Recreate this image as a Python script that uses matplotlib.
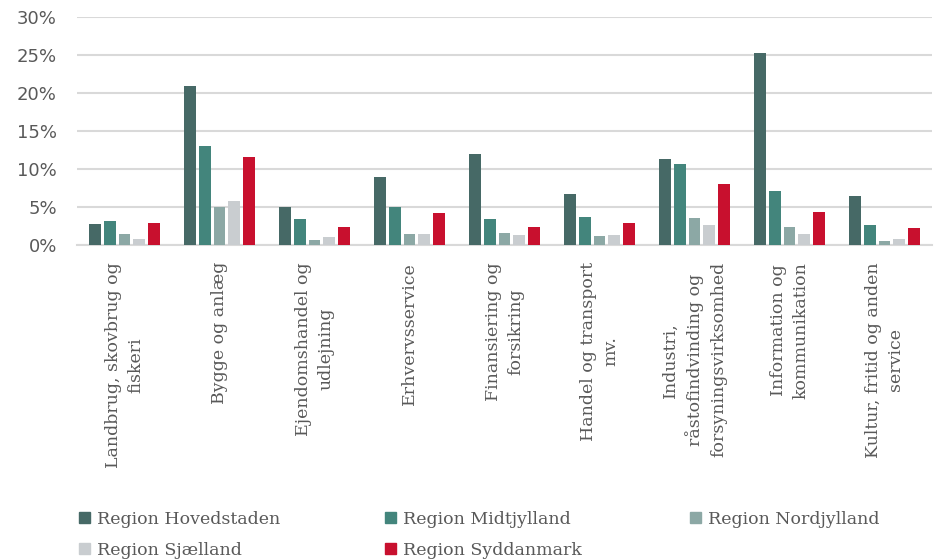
import matplotlib
matplotlib.use("Agg")
import matplotlib.pyplot as plt
from matplotlib.patches import Rectangle
import numpy as np

categories = [
    "Landbrug, skovbrug og\nfiskeri",
    "Bygge og anlæg",
    "Ejendomshandel og\nudlejning",
    "Erhvervsservice",
    "Finansiering og\nforsikring",
    "Handel og transport\nmv.",
    "Industri,\nråstofindvinding og\nforsyningsvirksomhed",
    "Information og\nkommunikation",
    "Kultur, fritid og anden\nservice",
]
series_names = ["Region Hovedstaden", "Region Midtjylland", "Region Nordjylland",
                "Region Sjælland", "Region Syddanmark"]
hovedstaden = [2.8, 20.9, 5.0, 8.9, 12.0, 6.7, 11.3, 25.2, 6.4]
midtjylland = [3.1, 13.0, 3.4, 5.0, 3.4, 3.7, 10.7, 7.1, 2.6]
nordjylland = [1.5, 5.0, 0.7, 1.4, 1.6, 1.2, 3.5, 2.4, 0.5]
sjaelland = [0.8, 5.8, 1.1, 1.5, 1.3, 1.3, 2.6, 1.5, 0.8]
syddanmark = [2.9, 11.6, 2.4, 4.2, 2.4, 2.9, 8.0, 4.4, 2.2]
yticks = [0, 5, 10, 15, 20, 25, 30]
colors = ["#466966", "#43857c", "#8ca8a5", "#c9cdd0", "#c8102e"]

series = [hovedstaden, midtjylland, nordjylland, sjaelland, syddanmark]

W, H = 934, 559
fig = plt.figure(figsize=(W / 100, H / 100), dpi=100)
ax = fig.add_axes([77 / W, (H - 245) / H, (932 - 77) / W, (245 - 17) / H])

x = np.arange(len(categories))
step = 0.155
bw = 0.125
for i, (vals, c) in enumerate(zip(series, colors)):
    ax.bar(x + (i - 2) * step, vals, width=bw, color=c, zorder=3)

ax.set_xlim(-0.5, len(categories) - 0.5)
ax.set_ylim(0, 30)
ax.set_yticks(yticks)
ax.set_yticklabels([f"{t}%" for t in yticks], fontfamily="DejaVu Sans",
                   fontsize=13, color="#595959")
ax.yaxis.grid(True, color="#d9d9d9", linewidth=1.5, zorder=0)
ax.tick_params(axis="y", length=0, pad=14.4)
ax.tick_params(axis="x", length=0)
for s in ["top", "right", "left"]:
    ax.spines[s].set_visible(False)
ax.spines["bottom"].set_color("#d9d9d9")
ax.spines["bottom"].set_linewidth(1.5)
ax.set_xticks([])

for xi, lab in zip(x, categories):
    ax.annotate(lab, xy=(xi, 0), xycoords=("data", "axes fraction"),
                xytext=(0, -17), textcoords="offset pixels",
                rotation=90, ha="center", va="top", multialignment="center",
                fontfamily="DejaVu Serif", fontsize=12.5, color="#595959",
                linespacing=1.45)

# legend
positions = [(79, 512), (385, 512), (690, 512), (79, 543), (385, 543)]
for (px, py), name, c in zip(positions, series_names, colors):
    fig.patches.append(Rectangle((px / W, (H - py - 11) / H), 11 / W, 11 / H,
                                 transform=fig.transFigure, color=c))
    fig.text((px + 18) / W, (H - py - 12) / H, name, fontfamily="DejaVu Serif",
             fontsize=12.5, color="#595959", va="baseline", ha="left")

fig.savefig("out.png", dpi=100)
